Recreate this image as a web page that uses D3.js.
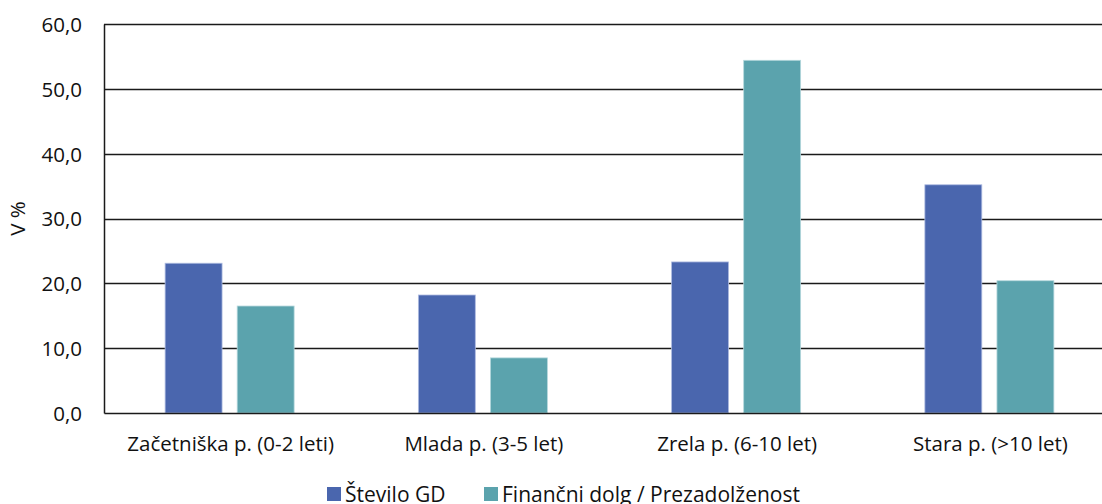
<!DOCTYPE html>
<html>
<head>
<meta charset="utf-8">
<script src="https://cdn.jsdelivr.net/npm/d3@7/dist/d3.min.js"></script>
<style>
  html, body { margin: 0; padding: 0; background: #fff; overflow: hidden; }
  svg { display: block; font-family: "Open Sans", "Noto Sans", sans-serif; }
</style>
</head>
<body>
<svg id="chart" width="1102" height="504"></svg>
<script>
// Age groups of companies (podjetja)
const categories = ["Začetniška p. (0-2 leti)", "Mlada p. (3-5 let)", "Zrela p. (6-10 let)", "Stara p. (>10 let)"];
const seriesNames = ["Število GD", "Finančni dolg / Prezadolženost"];
const steviloGD = [23.1, 18.2, 23.3, 35.2];
const financniDolg = [16.5, 8.5, 54.4, 20.4];
const yTicks = [0, 10, 20, 30, 40, 50, 60];
const colors = ["#4a66ae", "#5ba3ad"];

const svg = d3.select("#chart");
const plotLeft = 104, plotRight = 1117, plotTop = 24, plotBottom = 413;
const fontSize = 20.5;

const x0 = d3.scaleBand().domain(categories).range([plotLeft, plotRight]).padding(0);
const groupW = 129;
const x1 = d3.scaleBand().domain(seriesNames).range([0, groupW]).paddingInner(0.21).paddingOuter(0);
const y = d3.scaleLinear().domain([0, 60]).range([plotBottom, plotTop]);

const fmt = v => d3.format(".1f")(v).replace(".", ",");

// gridlines
svg.append("g")
  .selectAll("line").data(yTicks.filter(t => t > 0)).join("line")
  .attr("x1", plotLeft).attr("x2", plotRight)
  .attr("y1", d => Math.round(y(d)) + 0.5).attr("y2", d => Math.round(y(d)) + 0.5)
  .attr("stroke", "#1a1a1a").attr("stroke-width", 1.3);

// bars
const rows = categories.map((c, i) => ({ cat: c, vals: [steviloGD[i], financniDolg[i]] }));
const groups = svg.append("g").selectAll("g").data(rows).join("g")
  .attr("transform", d => `translate(${x0(d.cat) + (x0.bandwidth() - groupW) / 2 - 1},0)`);
groups.selectAll("rect").data(d => d.vals.map((v, k) => ({ v, k }))).join("rect")
  .attr("x", d => x1(seriesNames[d.k]))
  .attr("width", x1.bandwidth())
  .attr("y", d => y(d.v))
  .attr("height", d => y(0) - y(d.v))
  .attr("fill", d => colors[d.k])
  .attr("stroke", d => d.k === 0 ? "#aebbe0" : "#b5d8dc")
  .attr("stroke-width", 0.8);

// y axis
const yAxis = d3.axisLeft(y).tickValues(yTicks).tickFormat(fmt).tickSize(0).tickPadding(22);
const ya = svg.append("g").attr("transform", `translate(${plotLeft},0)`).call(yAxis);
ya.attr("font-size", fontSize).attr("font-family", null);
ya.select(".domain").attr("stroke", "#1a1a1a").attr("stroke-width", 1.5);
ya.selectAll("text").attr("fill", "#111").attr("dy", "0.36em");

// x axis
const xAxis = d3.axisBottom(x0).tickSize(0).tickPadding(23);
const xa = svg.append("g").attr("transform", `translate(0,${plotBottom})`).call(xAxis);
xa.attr("font-size", fontSize).attr("font-family", null);
xa.select(".domain").attr("stroke", "#1a1a1a").attr("stroke-width", 1.5);
xa.selectAll("text").attr("fill", "#111");

// y axis title
svg.append("text")
  .attr("transform", `translate(25,${(plotTop + plotBottom) / 2}) rotate(-90)`)
  .attr("text-anchor", "middle")
  .attr("font-size", fontSize).attr("fill", "#111")
  .text("V %");

// legend
const legendX = [327, 484];
const legend = svg.append("g").selectAll("g").data(seriesNames).join("g")
  .attr("transform", (d, i) => `translate(${legendX[i]},487)`);
legend.append("rect").attr("width", 14).attr("height", 14).attr("fill", (d, i) => colors[i]);
legend.append("text").attr("x", 18).attr("y", 14.5)
  .attr("font-size", 21).attr("fill", "#111").text(d => d);
</script>
</body>
</html>
